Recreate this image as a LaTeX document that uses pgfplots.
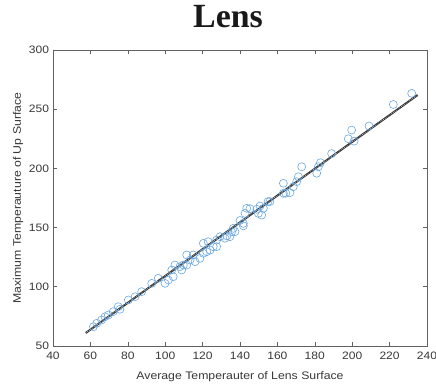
\documentclass[border=0pt]{standalone}
\usepackage{pgfplots}
\pgfplotsset{compat=1.18}
\usepackage{fontspec}
\setmainfont{Liberation Sans}[FakeStretch=1.12]
\newfontfamily\titlefont{Liberation Serif}
\definecolor{mblue}{rgb}{0.42,0.66,0.88}
\definecolor{axgray}{rgb}{0.38,0.38,0.38}
\definecolor{txtgray}{rgb}{0.22,0.22,0.22}
\begin{document}
\begin{tikzpicture}
\begin{axis}[
  scale only axis, width=374bp, height=296bp,
  xmin=40, xmax=240, ymin=50, ymax=300,
  xtick={40,60,...,240}, ytick={50,100,...,300},
  tick align=inside, major tick length=4bp,
  axis line style={axgray, line width=0.8bp},
  every tick/.style={axgray, line width=0.6bp},
  tick label style={font=\fontsize{10.8}{12}\selectfont, text=txtgray},
  /pgf/number format/assume math mode=true,
  xticklabel style={yshift=-2.5bp},
  yticklabel style={xshift=-0.5bp},
  xlabel={Average Temperauter of Lens Surface},
  ylabel={Maximum Temperauture of Up Surface},
  label style={font=\fontsize{11}{12}\selectfont, text=txtgray},
  xlabel style={yshift=-5bp},
  ylabel style={yshift=-1bp},
  title={Lens},
  title style={font=\titlefont\bfseries\fontsize{34}{36}\selectfont, anchor=base, yshift=17bp, xshift=-12bp, text=black!90},
]
\addplot[only marks, mark=o, mark size=4bp, mark options={mblue, line width=0.6bp}] coordinates {
(61.6,66.3) (63.4,69.2) (66,72) (67.8,74.7) (69.6,76.2) (72.2,79) (74.9,83.2) (75.8,81)
(80.3,88.9) (83.9,91.6) (87.4,95.9) (92.8,102.9) (96.3,107.2) (99.9,102.9) (101.7,105.7)
(104.3,108.5) (103.5,114.2) (105.2,118.4) (107.9,117) (108.8,114.2) (109.7,118.4)
(111.5,126.9) (111.5,118.4) (113.3,122.6) (115,126.9) (116,121.2) (118.6,124)
(120.4,128.3) (120.4,136.7) (122.2,129.6) (123,138.1) (124,131) (125.7,133.9)
(127.5,139.5) (127.5,133.9) (129.3,142.3) (132,141) (133,143) (134.6,142.3)
(135.5,146.5) (136.4,149.4) (137.3,146.5) (140,156) (141.8,153.6) (141.8,151.5)
(142.7,162) (143.6,166.3) (145.3,166) (149,165.5) (149.8,162) (151.6,160.6)
(152.5,166.3) (150.7,168.2) (155,172) (156,172) (163.2,187.4) (163.2,179) (164.5,179)
(166.7,179.5) (168.5,184.5) (170.3,188.8) (171.2,193) (173,201.4) (181,195.9)
(181.9,201.4) (183,204.8) (189,212.5) (197.9,225) (199.7,232.4) (201,223)
(209,235.8) (222,254) (231.8,263.4)
};
\addplot[black!80, line width=2bp] coordinates {(57.5,61) (235,262)};
\addplot[white!85!black, line width=0.5bp, dash pattern=on 0.8bp off 1.2bp] coordinates {(57.5,61) (235,262)};
\end{axis}
\pgfresetboundingbox
\path (-53bp,-38bp) rectangle (383bp,346bp);
\end{tikzpicture}
\end{document}
